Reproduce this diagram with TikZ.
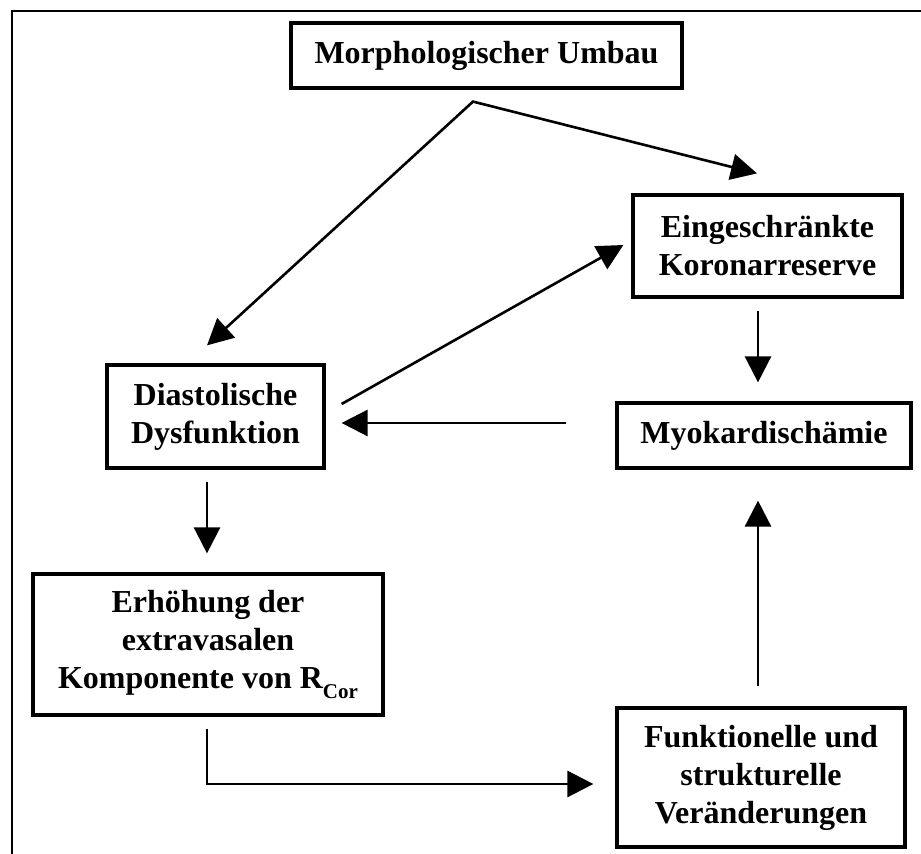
\documentclass[tikz,border=0pt]{standalone}
\usepackage{fontspec}
\setmainfont{Liberation Serif}
\usetikzlibrary{arrows.meta,calc}
\begin{document}
\begin{tikzpicture}[x=0.5pt,y=-0.5pt,
  box/.style={draw, line width=1.6pt, rectangle, inner sep=0pt, align=center,
    font=\bfseries\fontsize{16}{19}\selectfont},
  arr/.style={line width=1.3pt, -{Triangle[length=13pt,width=13pt]}},
  frame/.style={line width=1.1pt}
]
\clip (0,0) rectangle (921,854);
\fill[white] (0,0) rectangle (921,854);
\draw[frame] (12,880) -- (12,11) -- (940,11);

\node[box, minimum width=195.5pt, minimum height=32.5pt] (morph) at (486.5,55.5) {Morphologischer Umbau};
\node[box, minimum width=134.5pt, minimum height=51pt] (eing) at (767.5,246) {Eingeschränkte\\Koronarreserve};
\node[box, minimum width=108.5pt, minimum height=51.5pt] (dia) at (215.5,416.5) {Diastolische\\Dysfunktion};
\node[box, minimum width=147pt, minimum height=32.5pt] (myo) at (764,435.5) {Myokardischämie};
\node[box, minimum width=175pt, minimum height=70.5pt] (erh) at (208,644.5)
  {Erhöhung der\\extravasalen\\Komponente von R\raisebox{-5pt}{\fontsize{10.5}{11}\selectfont Cor}};
\node[box, minimum width=144pt, minimum height=69.5pt] (funk) at (761,777.5) {Funktionelle und\\strukturelle\\Veränderungen};

\coordinate (apex) at ($(morph.south)+(-13.5,12)$);
\draw[line width=1.3pt, {Triangle[length=13pt,width=13pt]}-{Triangle[length=13pt,width=13pt]}]
  ($(dia.north)+(-8.5,-18)$) -- (apex) -- ($(eing.north)+(-10.5,-20)$);
\draw[arr] ($(dia.east)+(16,-12.5)$) -- ($(eing.west)+(-8,-1)$);
\draw[arr] ($(eing.south)+(-9.5,12)$) -- ($(myo.north)+(-6,-19)$);
\draw[arr] ($(myo.west)+(-49,-12.5)$) -- ($(dia.east)+(16,6.5)$);
\draw[arr] ($(dia.south)+(-8.5,12)$) -- ($(erh.north)+(-1,-19)$);
\draw[arr] ($(erh.south)+(-1,12)$) |- ($(funk.west)+(-22,6.5)$);
\draw[arr] ($(funk.north)+(-3,-20)$) -- ($(myo.south)+(-6,31)$);
\end{tikzpicture}
\end{document}
